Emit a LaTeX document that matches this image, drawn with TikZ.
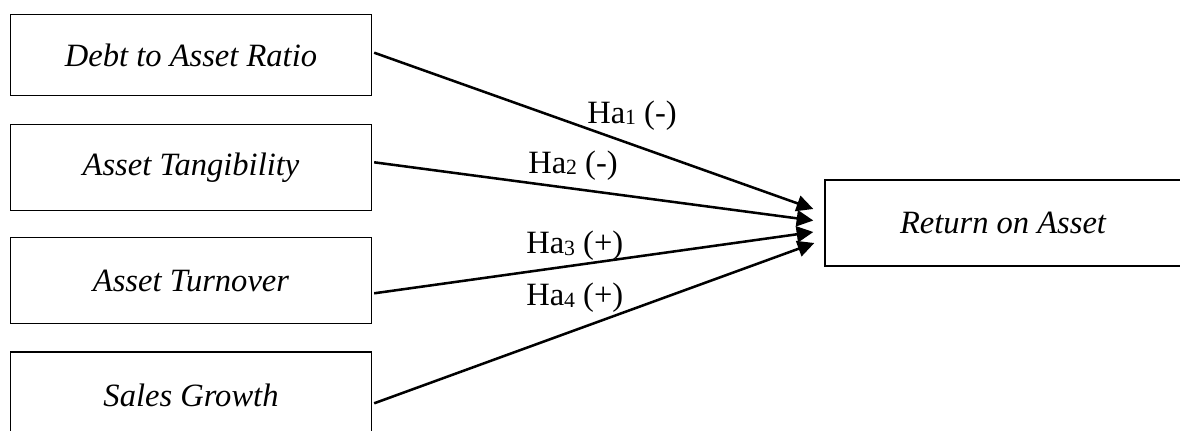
\documentclass[tikz,border=0pt]{standalone}
\usepackage{fontspec}
\setmainfont{Liberation Serif}
\usetikzlibrary{arrows.meta}
\newcommand\hsub[1]{\raisebox{-1.5pt}{\fontsize{16.3}{16}\selectfont #1}}
\begin{document}
\begin{tikzpicture}[x=0.75pt,y=-0.75pt,
  box/.style={draw=black,line width=1pt,rectangle,inner sep=0pt,
    font=\fontsize{24.4}{28}\selectfont\itshape},
  hlabel/.style={inner sep=0pt,anchor=base west,font=\fontsize{24.4}{28}\selectfont},
  conn/.style={line width=1.9pt,-{Triangle[length=12.5pt,width=12pt]}}]
\useasboundingbox (0,0) rectangle (1180,431);
\clip (0,0) rectangle (1180,431);
\node[box,minimum width=361*0.75pt,minimum height=81.4*0.75pt] (b1) at (191,55) {Debt to Asset Ratio};
\node[box,minimum width=361*0.75pt,minimum height=86*0.75pt] (b2) at (191,167.7) {Asset Tangibility};
\node[box,minimum width=361*0.75pt,minimum height=85.6*0.75pt] (b3) at (191,280.5) {Asset Turnover};
\node[box,minimum width=361*0.75pt,minimum height=86*0.75pt] (b4) at (191,395) {Sales Growth};
\node[box,minimum width=356*0.75pt,minimum height=86*0.75pt] (roa) at (1003,223) {Return on Asset};
\coordinate (s1) at ([shift={(2,-2.3)}]b1.east);
\coordinate (s2) at ([shift={(2,-5.4)}]b2.east);
\coordinate (s3) at ([shift={(2,12.8)}]b3.east);
\coordinate (s4) at ([shift={(2,8.3)}]b4.east);
\coordinate (t1) at ([shift={(-11,-14)}]roa.west);
\coordinate (t2) at ([shift={(-11,-2.5)}]roa.west);
\coordinate (t3) at ([shift={(-11,9)}]roa.west);
\coordinate (t4) at ([shift={(-10,20)}]roa.west);
\draw[conn] (s1) -- (t1);
\draw[conn] (s2) -- (t2);
\draw[conn] (s3) -- (t3);
\draw[conn] (s4) -- (t4);
\node[hlabel] (h1) at (587,123) {Ha\hsub{1} (-)};
\node[hlabel] (h2) at (528,173) {Ha\hsub{2} (-)};
\node[hlabel] (h3) at (526,253) {Ha\hsub{3} (+)};
\node[hlabel] (h4) at (526,305) {Ha\hsub{4} (+)};
\end{tikzpicture}
\end{document}
